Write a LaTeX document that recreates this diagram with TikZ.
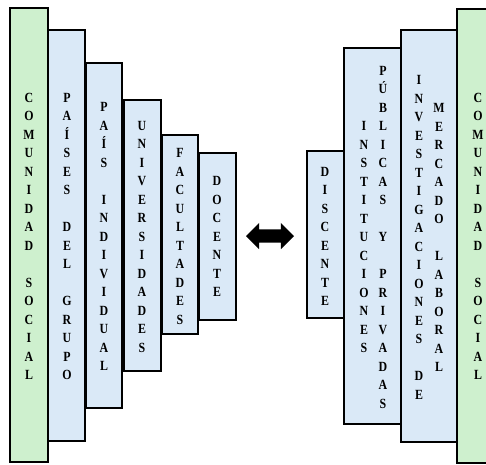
\documentclass[tikz,border=0pt]{standalone}
\usepackage{fontspec}
\setmainfont{Liberation Serif}
\newfontfamily\stackfont[FakeStretch=0.85]{Liberation Serif}
\usetikzlibrary{shapes.arrows}

\definecolor{comgreen}{RGB}{206,240,206}
\definecolor{instblue}{RGB}{218,233,247}

% empty slot in a letter column (word break)
\newcommand\gap{\mbox{}}

\begin{document}
\begin{tikzpicture}[x=1pt,y=-1pt,
  box/.style={draw=black, line width=2.8pt, inner sep=0pt, outer sep=0pt,
              anchor=north west, rectangle},
  greenbox/.style={box, fill=comgreen},
  bluebox/.style={box, fill=instblue},
  letters/.style={font=\stackfont\bfseries\fontsize{14}{18.5}\selectfont,
                  align=center, inner sep=0pt}]

\useasboundingbox (0,0) rectangle (486,464);
\clip (0,0) rectangle (486,464);

% ---- left stack, widest level first
\node[greenbox, minimum width=38pt, minimum height=454pt] (comL) at (10,8) {};
\node[bluebox,  minimum width=37pt, minimum height=411pt] (grupo) at (48,30) {};
\node[bluebox,  minimum width=36pt, minimum height=345pt] (pais) at (86,63) {};
\node[bluebox,  minimum width=37pt, minimum height=271pt] (univ) at (124,100) {};
\node[bluebox,  minimum width=36pt, minimum height=199pt] (facu) at (162,135) {};
\node[bluebox,  minimum width=37pt, minimum height=167pt] (doce) at (199,153) {};

% ---- right stack
\node[bluebox,  minimum width=37pt, minimum height=167pt] (disc) at (307,151) {};
\node[bluebox,  minimum width=57pt, minimum height=376pt] (inst) at (344,48) {};
\node[bluebox,  minimum width=56pt, minimum height=412pt] (inve) at (401,30) {};
\node[greenbox, minimum width=42pt, minimum height=454pt] (comR) at (457,9) {};

% ---- vertical labels
\node[letters] (tComL) at (29,236.5)
  {C\\O\\M\\U\\N\\I\\D\\A\\D\\\gap\\S\\O\\C\\I\\A\\L};
\node[letters] (tGrupo) at (67,236.5)
  {P\\A\\Í\\S\\E\\S\\\gap\\D\\E\\L\\\gap\\G\\R\\U\\P\\O};
\node[letters] (tPais) at (104,236.5)
  {P\\A\\Í\\S\\\gap\\I\\N\\D\\I\\V\\I\\D\\U\\A\\L};
\node[letters] (tUniv) at (142,236.5)
  {U\\N\\I\\V\\E\\R\\S\\I\\D\\A\\D\\E\\S};
\node[letters] (tFacu) at (180,236.5)
  {F\\A\\C\\U\\L\\T\\A\\D\\E\\S};
\node[letters] (tDoce) at (217,236.5)
  {D\\O\\C\\E\\N\\T\\E};

\node[letters] (tDisc) at (325,236.5)
  {D\\I\\S\\C\\E\\N\\T\\E};
\node[letters] (tInstA) at (364,237)
  {I\\N\\S\\T\\I\\T\\U\\C\\I\\O\\N\\E\\S};
\node[letters] (tInstB) at (383,237)
  {P\\Ú\\B\\L\\I\\C\\A\\S\\\gap\\Y\\\gap\\P\\R\\I\\V\\A\\D\\A\\S};
\node[letters] (tInveA) at (419,237.5)
  {I\\N\\V\\E\\S\\T\\I\\G\\A\\C\\I\\O\\N\\E\\S\\\gap\\D\\E};
\node[letters] (tInveB) at (439,237.5)
  {M\\E\\R\\C\\A\\D\\O\\\gap\\L\\A\\B\\O\\R\\A\\L};
\node[letters] (tComR) at (478,236.5)
  {C\\O\\M\\U\\N\\I\\D\\A\\D\\\gap\\S\\O\\C\\I\\A\\L};

% ---- two-way link between the stacks (shaft 13pt thick)
\node[double arrow, fill=black, draw=none, inner sep=0pt, outer sep=0pt,
      minimum height=48pt, minimum width=26pt,
      double arrow head extend=6.5pt] (link) at (270,236)
  {\rule{0pt}{13pt}};

\end{tikzpicture}
\end{document}
